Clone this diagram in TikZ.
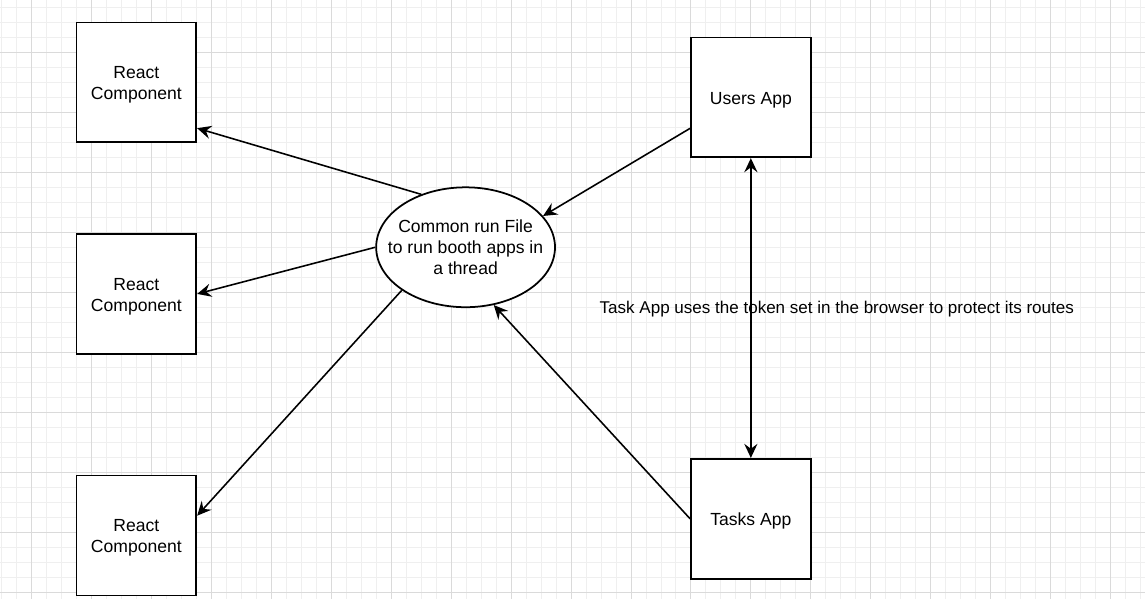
\documentclass[tikz,border=0pt]{standalone}
\usepackage{fontspec}
\setmainfont{Liberation Sans}
\usetikzlibrary{arrows.meta,shapes.geometric,positioning}
\definecolor{gridminor}{HTML}{EFEFEF}
\definecolor{gridmajor}{HTML}{DADADA}

\begin{document}
\begin{tikzpicture}[x=0.02cm,y=-0.02cm,>={Stealth[length=8pt,width=7.5pt,inset=2.8pt]},
		font=\fontsize{10}{12}\selectfont,
		box/.style={draw,line width=1pt,fill=white,minimum size=2.4cm,inner sep=0pt,align=center,text height=10pt},
		comp/.style={box,text height=22pt},
		runfile/.style={draw,ellipse,line width=1pt,fill=white,minimum width=3.58cm,minimum height=2.4cm,inner sep=0pt},
		link/.style={->,line width=0.9pt}]
		% background grid
		\fill[white] (0,0) rectangle (1145,599);
		\foreach \x in {1,16,...,1141} \draw[gridminor,line width=0.5pt] (\x,0) -- (\x,599);
		\foreach \y in {7,22,...,597} \draw[gridminor,line width=0.5pt] (0,\y) -- (1145,\y);
		\foreach \x in {31,91,...,1111} \draw[gridmajor,line width=0.5pt] (\x,0) -- (\x,599);
		\foreach \y in {52,112,...,592} \draw[gridmajor,line width=0.5pt] (0,\y) -- (1145,\y);
		\useasboundingbox (0,0) rectangle (1145,599);

		\node[comp] (R1) at (136,82) {React\\Component};
		\node[comp, below=1.8cm of R1] (R2) {React\\Component};
		\node[comp, below=2.4cm of R2] (R3) {React\\Component};
		\node[box] (U) at (751,97) {Users App};
		\node[box, below=6cm of U] (T) {Tasks App};
		\node[runfile, label={[align=center]center:Common run File\\to run booth apps in\\a thread}] (C) at (465.5,247) {};
		\node[font=\fontsize{9.7}{12}\selectfont] (L) at (837,309) {Task App uses the token set in the browser to protect its routes};

		\draw[link] (C.130) -- (R1.-37);
		\draw[link] (C.west) -- (R2.east);
		\draw[link] (C.-146) -- (R3.18);
		\draw[link] (U.-153) -- (C.22);
		\draw[link] (T.west) -- (C.-64);
		\draw[link,<->] (U.south) -- (T.north);
	\end{tikzpicture}
\end{document}
